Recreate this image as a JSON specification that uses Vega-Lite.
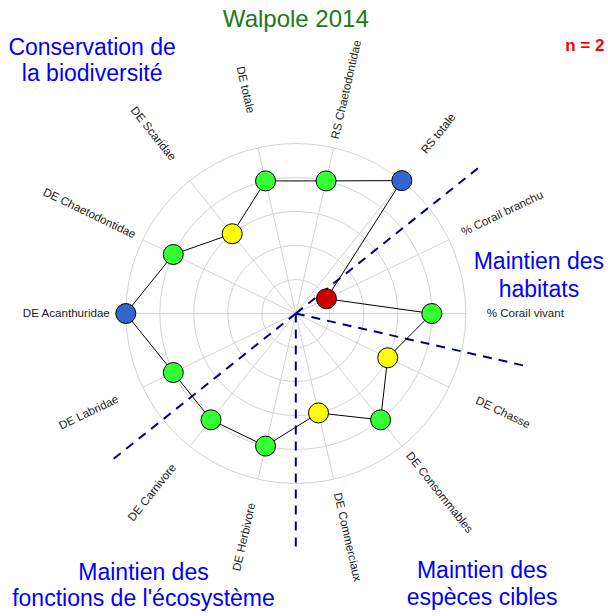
{
  "$schema": "https://vega.github.io/schema/vega-lite/v6.json",
  "width": 608,
  "height": 616,
  "autosize": {"type": "none"},
  "padding": 0,
  "background": "white",
  "config": {"view": {"stroke": null}, "font": "Liberation Sans"},
  "datasets": {
    "axes": [
      {"i": 0, "axis": "% Corail vivant", "value": 4},
      {"i": 1, "axis": "% Corail branchu", "value": 1},
      {"i": 2, "axis": "RS totale", "value": 5},
      {"i": 3, "axis": "RS Chaetodontidae", "value": 4},
      {"i": 4, "axis": "DE totale", "value": 4},
      {"i": 5, "axis": "DE Scaridae", "value": 3},
      {"i": 6, "axis": "DE Chaetodontidae", "value": 4},
      {"i": 7, "axis": "DE Acanthuridae", "value": 5},
      {"i": 8, "axis": "DE Labridae", "value": 4},
      {"i": 9, "axis": "DE Carnivore", "value": 4},
      {"i": 10, "axis": "DE Herbivore", "value": 4},
      {"i": 11, "axis": "DE Commerciaux", "value": 3},
      {"i": 12, "axis": "DE Consommables", "value": 4},
      {"i": 13, "axis": "DE Chasse", "value": 3}
    ],
    "rings": [{"k": 1}, {"k": 2}, {"k": 3}, {"k": 4}, {"k": 5}],
    "separators": [
      {"pos": 1.5, "len": 7},
      {"pos": 8.5, "len": 7},
      {"pos": 10.5, "len": 7},
      {"pos": 13.5, "len": 7}
    ]
  },
  "layer": [
    {
      "data": {"name": "rings"},
      "mark": {"type": "point", "shape": "circle", "filled": false, "color": "#d3d3d3", "strokeWidth": 1, "opacity": 1},
      "encoding": {
        "x": {"datum": 0, "type": "quantitative", "scale": {"domain": [-8.7, 9.182], "nice": false, "zero": false}, "axis": null},
        "y": {"datum": 0, "type": "quantitative", "scale": {"domain": [-8.897, 9.221], "nice": false, "zero": false}, "axis": null},
        "size": {"field": "k", "type": "quantitative", "scale": {"type": "pow", "exponent": 2, "domain": [0, 5], "range": [0, 115600]}, "legend": null}
      }
    },
    {
      "data": {"name": "axes"},
      "transform": [
        {"calculate": "datum.i * 2 * PI / 14", "as": "a"},
        {"calculate": "5 * cos(datum.a)", "as": "sx"},
        {"calculate": "5 * sin(datum.a)", "as": "sy"},
        {"calculate": "0", "as": "o"}
      ],
      "mark": {"type": "rule", "color": "#d3d3d3", "strokeWidth": 1},
      "encoding": {
        "x": {"field": "sx", "type": "quantitative", "scale": {"domain": [-8.7, 9.182], "nice": false, "zero": false}, "axis": null},
        "y": {"field": "sy", "type": "quantitative", "scale": {"domain": [-8.897, 9.221], "nice": false, "zero": false}, "axis": null},
        "x2": {"field": "o"},
        "y2": {"field": "o"}
      }
    },
    {
      "data": {"name": "separators"},
      "transform": [
        {"calculate": "datum.pos * 2 * PI / 14", "as": "a"},
        {"calculate": "datum.len * cos(datum.a)", "as": "ex"},
        {"calculate": "datum.len * sin(datum.a)", "as": "ey"},
        {"calculate": "0", "as": "o"}
      ],
      "mark": {"type": "rule", "color": "#00008b", "strokeWidth": 2, "strokeDash": [9, 7]},
      "encoding": {
        "x": {"field": "o", "type": "quantitative", "scale": {"domain": [-8.7, 9.182], "nice": false, "zero": false}, "axis": null},
        "y": {"field": "o", "type": "quantitative", "scale": {"domain": [-8.897, 9.221], "nice": false, "zero": false}, "axis": null},
        "x2": {"field": "ex"},
        "y2": {"field": "ey"}
      }
    },
    {
      "data": {"name": "axes"},
      "transform": [
        {"calculate": "datum.i * 2 * PI / 14", "as": "a"},
        {"calculate": "datum.value * cos(datum.a)", "as": "px"},
        {"calculate": "datum.value * sin(datum.a)", "as": "py"}
      ],
      "mark": {"type": "line", "interpolate": "linear-closed", "color": "#000000", "strokeWidth": 1},
      "encoding": {
        "x": {"field": "px", "type": "quantitative", "scale": {"domain": [-8.7, 9.182], "nice": false, "zero": false}, "axis": null},
        "y": {"field": "py", "type": "quantitative", "scale": {"domain": [-8.897, 9.221], "nice": false, "zero": false}, "axis": null},
        "order": {"field": "i", "type": "quantitative"}
      }
    },
    {
      "data": {"name": "axes"},
      "transform": [
        {"calculate": "datum.i * 2 * PI / 14", "as": "a"},
        {"calculate": "datum.value * cos(datum.a)", "as": "px"},
        {"calculate": "datum.value * sin(datum.a)", "as": "py"}
      ],
      "mark": {"type": "point", "shape": "circle", "filled": true, "size": 400, "stroke": "#000000", "strokeWidth": 1, "opacity": 1},
      "encoding": {
        "x": {"field": "px", "type": "quantitative", "scale": {"domain": [-8.7, 9.182], "nice": false, "zero": false}, "axis": null},
        "y": {"field": "py", "type": "quantitative", "scale": {"domain": [-8.897, 9.221], "nice": false, "zero": false}, "axis": null},
        "fill": {"field": "value", "type": "ordinal", "scale": {"domain": [1, 3, 4, 5], "range": ["#cc0000", "#ffff00", "#33ff33", "#3366cc"]}, "legend": null}
      }
    },
    {
      "data": {"name": "axes"},
      "transform": [
        {"calculate": "datum.i * 2 * PI / 14", "as": "a"},
        {"calculate": "6.75 * cos(datum.a)", "as": "lx"},
        {"calculate": "6.75 * sin(datum.a)", "as": "ly"},
        {"calculate": "(datum.i <= 3 || datum.i >= 11) ? -datum.i * 360 / 14 : 180 - datum.i * 360 / 14", "as": "ang"}
      ],
      "mark": {"type": "text", "align": "center", "baseline": "middle", "fontSize": 11.6, "color": "#222222"},
      "encoding": {
        "x": {"field": "lx", "type": "quantitative", "scale": {"domain": [-8.7, 9.182], "nice": false, "zero": false}, "axis": null},
        "y": {"field": "ly", "type": "quantitative", "scale": {"domain": [-8.897, 9.221], "nice": false, "zero": false}, "axis": null},
        "text": {"field": "axis"},
        "angle": {"field": "ang", "type": "quantitative", "scale": null}
      }
    },
    {
      "data": {"values": [{"label": "Walpole 2014"}]},
      "mark": {"type": "text", "align": "center", "baseline": "alphabetic", "fontSize": 24, "color": "#1b7a1b"},
      "encoding": {
        "x": {"datum": 0, "type": "quantitative", "scale": {"domain": [-8.7, 9.182], "nice": false, "zero": false}, "axis": null},
        "y": {"datum": 8.43, "type": "quantitative", "scale": {"domain": [-8.897, 9.221], "nice": false, "zero": false}, "axis": null},
        "text": {"field": "label"}
      }
    },
    {
      "data": {"values": [{"label": "n = 2"}]},
      "mark": {"type": "text", "align": "center", "baseline": "alphabetic", "fontSize": 17, "fontWeight": "bold", "color": "#ff0000"},
      "encoding": {
        "x": {"datum": 8.5, "type": "quantitative", "scale": {"domain": [-8.7, 9.182], "nice": false, "zero": false}, "axis": null},
        "y": {"datum": 7.72, "type": "quantitative", "scale": {"domain": [-8.897, 9.221], "nice": false, "zero": false}, "axis": null},
        "text": {"field": "label"}
      }
    },
    {
      "data": {"values": [{"label": ["Conservation de", "la biodiversité"]}]},
      "mark": {"type": "text", "align": "center", "baseline": "alphabetic", "fontSize": 23, "lineHeight": 26, "color": "#0000ff"},
      "encoding": {
        "x": {"datum": -5.99, "type": "quantitative", "scale": {"domain": [-8.7, 9.182], "nice": false, "zero": false}, "axis": null},
        "y": {"datum": 7.6, "type": "quantitative", "scale": {"domain": [-8.897, 9.221], "nice": false, "zero": false}, "axis": null},
        "text": {"field": "label"}
      }
    },
    {
      "data": {"values": [{"label": ["Maintien des", "habitats"]}]},
      "mark": {"type": "text", "align": "center", "baseline": "alphabetic", "fontSize": 23, "lineHeight": 28, "color": "#0000ff"},
      "encoding": {
        "x": {"datum": 7.15, "type": "quantitative", "scale": {"domain": [-8.7, 9.182], "nice": false, "zero": false}, "axis": null},
        "y": {"datum": 1.31, "type": "quantitative", "scale": {"domain": [-8.897, 9.221], "nice": false, "zero": false}, "axis": null},
        "text": {"field": "label"}
      }
    },
    {
      "data": {"values": [{"label": ["Maintien des", "espèces cibles"]}]},
      "mark": {"type": "text", "align": "center", "baseline": "alphabetic", "fontSize": 23, "lineHeight": 27, "color": "#0000ff"},
      "encoding": {
        "x": {"datum": 5.48, "type": "quantitative", "scale": {"domain": [-8.7, 9.182], "nice": false, "zero": false}, "axis": null},
        "y": {"datum": -7.78, "type": "quantitative", "scale": {"domain": [-8.897, 9.221], "nice": false, "zero": false}, "axis": null},
        "text": {"field": "label"}
      }
    },
    {
      "data": {"values": [{"label": ["Maintien des", "fonctions de l'écosystème"]}]},
      "mark": {"type": "text", "align": "center", "baseline": "alphabetic", "fontSize": 23, "lineHeight": 26, "color": "#0000ff"},
      "encoding": {
        "x": {"datum": -4.48, "type": "quantitative", "scale": {"domain": [-8.7, 9.182], "nice": false, "zero": false}, "axis": null},
        "y": {"datum": -7.84, "type": "quantitative", "scale": {"domain": [-8.897, 9.221], "nice": false, "zero": false}, "axis": null},
        "text": {"field": "label"}
      }
    }
  ]
}
